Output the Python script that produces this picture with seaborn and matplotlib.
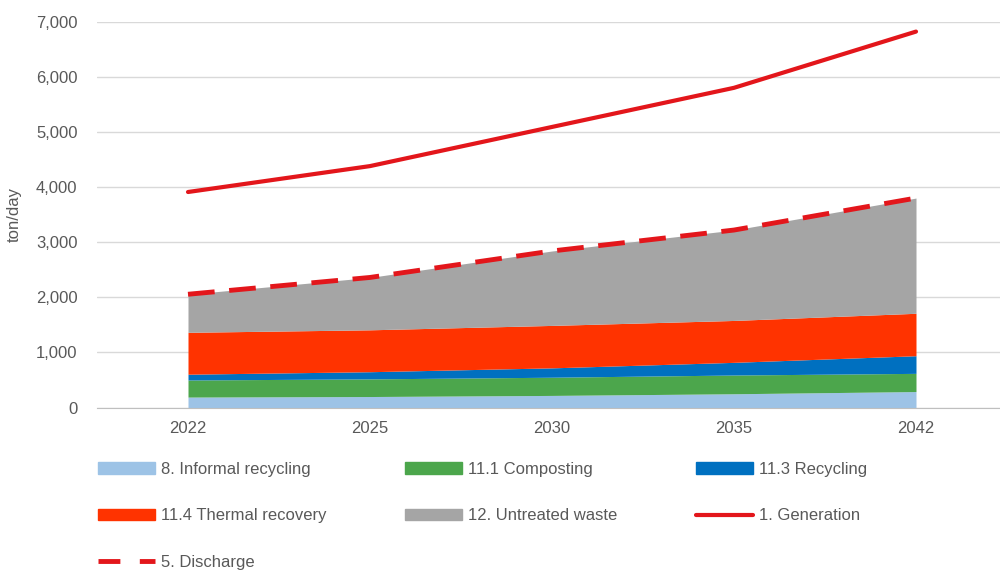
import numpy as np
import pandas as pd
import matplotlib
matplotlib.use("Agg")
import matplotlib.pyplot as plt
from matplotlib.patches import Patch
from matplotlib.lines import Line2D
from matplotlib.ticker import FuncFormatter, FixedLocator
import seaborn as sns

# data (ton/day)
years = ["2022", "2025", "2030", "2035", "2042"]
informal = [190, 200, 220, 250, 290]
composting = [310, 320, 330, 340, 330]
recycling = [105, 130, 170, 230, 320]
thermal = [760, 760, 770, 760, 770]
untreated = [690, 950, 1350, 1640, 2090]
generation = [3910, 4380, 5090, 5800, 6820]
discharge = [2055, 2360, 2840, 3220, 3800]

area_names = ["8. Informal recycling", "11.1 Composting", "11.3 Recycling",
              "11.4 Thermal recovery", "12. Untreated waste"]
area_colors = ["#9DC3E6", "#4CA64C", "#0070C0", "#FF3300", "#A5A5A5"]
line_color = "#E3161B"
txt = "#595959"

sns.set_style("white")
plt.rcParams["font.family"] = ["Liberation Sans", "DejaVu Sans"]

df = pd.DataFrame({"year": years, "pos": np.arange(len(years)),
                   "gen": generation, "dis": discharge})

fig = plt.figure(figsize=(10, 5.7), dpi=100)
ax = fig.add_axes([0.097, 0.285, 0.91, 0.677])

ax.stackplot(df["pos"], informal, composting, recycling, thermal, untreated,
             colors=area_colors, linewidth=0)
sns.lineplot(data=df, x="pos", y="gen", color=line_color, linewidth=3, ax=ax)
sns.lineplot(data=df, x="pos", y="dis", color=line_color, linewidth=3.5, ax=ax)
ax.lines[-1].set_dashes([5.5, 3])

ax.set_xlim(-0.5, len(years) - 0.5)
ax.set_ylim(0, 7000)
ax.set_yticks(np.arange(0, 7001, 1000))
ax.yaxis.set_major_formatter(FuncFormatter(lambda v, p: f"{int(v):,}"))
ax.set_xticks(df["pos"])
ax.set_xticklabels(years)
ax.xaxis.set_minor_locator(FixedLocator(np.arange(-0.5, len(years), 1.0)))
ax.tick_params(axis="x", which="major", length=0, pad=10, labelsize=12, labelcolor=txt)
ax.tick_params(axis="x", which="minor", length=5, color="#BFBFBF", width=1)
ax.tick_params(axis="y", length=0, pad=14, labelsize=12, labelcolor=txt)
ax.grid(axis="y", color="#D9D9D9", linewidth=1)
ax.set_axisbelow(True)
for s in ["top", "right", "left"]:
    ax.spines[s].set_visible(False)
ax.spines["bottom"].set_color("#BFBFBF")
ax.set_xlabel("")
ax.set_ylabel("ton/day", fontsize=12, color=txt, labelpad=10)

h = [Patch(color=c) for c in area_colors]
gen_h = Line2D([], [], color=line_color, linewidth=3)
dis_h = Line2D([], [], color=line_color, linewidth=3.5, dashes=[4.5, 4])
handles = [h[0], h[3], dis_h, h[1], h[4], h[2], gen_h]
labels = [area_names[0], area_names[3], "5. Discharge", area_names[1],
          area_names[4], area_names[2], "1. Generation"]
fig.legend(handles, labels, loc="upper left", bbox_to_anchor=(0.098, 0.19),
           ncol=3, frameon=False, fontsize=12, labelcolor=txt,
           handlelength=3.4, handleheight=0.7, handletextpad=0.4,
           labelspacing=1.9, columnspacing=4.7, borderaxespad=0, borderpad=0)

fig.savefig("out.png", dpi=100)
